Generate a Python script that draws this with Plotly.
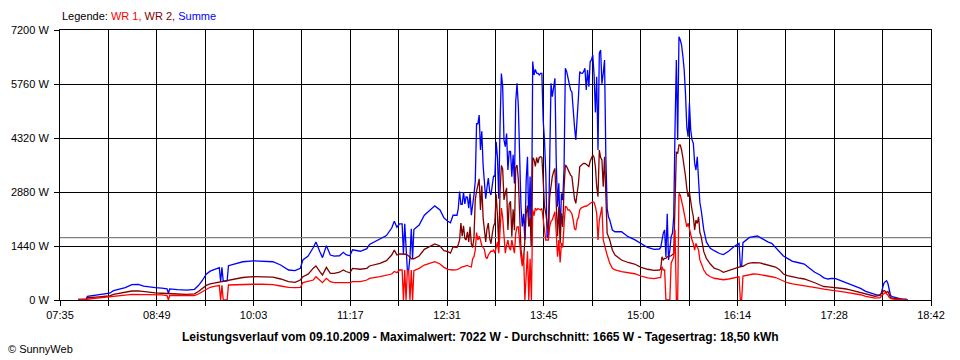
import plotly.graph_objects as go

# ---- data (time of day, watts) ----
TIME = [
    "07:49", "07:55", "07:56", "08:00", "08:05", "08:10", "08:13", "08:16", "08:20", "08:25",
    "08:30", "08:35", "08:39", "08:43", "08:48", "08:53", "08:57", "08:58", "08:59", "09:05",
    "09:12", "09:18", "09:21", "09:24", "09:27", "09:30", "09:34", "09:37", "09:38", "09:39",
    "09:40", "09:43", "09:44", "09:50", "09:55", "10:03", "10:10", "10:18", "10:24", "10:30",
    "10:35", "10:39", "10:41", "10:45", "10:49", "10:51", "10:54", "10:56", "10:59", "11:02",
    "11:05", "11:09", "11:12", "11:14", "11:17", "11:19", "11:25", "11:30", "11:32", "11:40",
    "11:45", "11:49", "11:51", "11:53", "11:55", "11:57", "11:58", "11:59", "12:00", "12:01",
    "12:02", "12:03", "12:04", "12:05", "12:06", "12:10", "12:14", "12:18", "12:22", "12:26",
    "12:29", "12:32", "12:34", "12:36", "12:39", "12:40", "12:41", "12:42", "12:43", "12:44",
    "12:45", "12:46", "12:47", "12:48", "12:49", "12:50", "12:51", "12:52", "12:53", "12:54",
    "12:55", "12:56", "12:57", "12:58", "12:59", "13:00", "13:01", "13:02", "13:03", "13:04",
    "13:05", "13:06", "13:07", "13:08", "13:09", "13:10", "13:11", "13:12", "13:13", "13:14",
    "13:15", "13:16", "13:17", "13:18", "13:19", "13:20", "13:21", "13:22", "13:23", "13:24",
    "13:25", "13:26", "13:27", "13:28", "13:29", "13:30", "13:31", "13:32", "13:33", "13:34",
    "13:35", "13:36", "13:37", "13:38", "13:39", "13:40", "13:41", "13:42", "13:43", "13:44",
    "13:45", "13:46", "13:47", "13:48", "13:49", "13:50", "13:51", "13:52", "13:53", "13:54",
    "13:55", "13:56", "13:57", "13:58", "13:59", "14:00", "14:01", "14:02", "14:03", "14:04",
    "14:05", "14:06", "14:07", "14:08", "14:09", "14:10", "14:11", "14:12", "14:13", "14:14",
    "14:15", "14:16", "14:17", "14:18", "14:19", "14:20", "14:21", "14:22", "14:23", "14:24",
    "14:25", "14:26", "14:27", "14:28", "14:29", "14:30", "14:31", "14:32", "14:33", "14:34",
    "14:35", "14:36", "14:38", "14:40", "14:45", "14:50", "14:55", "15:00", "15:05", "15:10",
    "15:14", "15:15", "15:16", "15:17", "15:18", "15:19", "15:20", "15:21", "15:22", "15:23",
    "15:24", "15:25", "15:26", "15:27", "15:28", "15:29", "15:30", "15:31", "15:32", "15:33",
    "15:34", "15:35", "15:36", "15:37", "15:38", "15:39", "15:40", "15:41", "15:42", "15:43",
    "15:44", "15:45", "15:46", "15:47", "15:48", "15:50", "15:53", "15:56", "16:00", "16:03",
    "16:07", "16:11", "16:14", "16:15", "16:16", "16:17", "16:18", "16:21", "16:23", "16:26",
    "16:29", "16:31", "16:34", "16:37", "16:40", "16:43", "16:46", "16:49", "16:52", "16:56",
    "17:00", "17:05", "17:09", "17:13", "17:17", "17:20", "17:23", "17:26", "17:29", "17:32",
    "17:36", "17:40", "17:44", "17:48", "17:52", "17:56", "17:59", "18:01", "18:03", "18:04",
    "18:05", "18:06", "18:07", "18:08", "18:09", "18:10", "18:11", "18:13", "18:16", "18:19",
    "18:23", "18:24",
]

WR1 = [
    0, 0, 20, 40, 55, 70, 75, 100, 110, 130,
    150, 150, 145, 140, 140, 135, 120, 0, 120, 115,
    115, 120, 160, 220, 300, 340, 370, 385, 0, 390,
    0, 0, 400, 410, 415, 420, 420, 410, 373, 338,
    329, 335, 462, 489, 533, 622, 533, 462, 578, 489,
    462, 462, 462, 462, 462, 489, 489, 533, 578, 622,
    658, 693, 760, 729, 800, 800, 0, 800, 0, 800,
    790, 0, 800, 0, 780, 844, 933, 978, 1022, 960,
    871, 818, 800, 800, 810, 820, 840, 870, 880, 900,
    920, 930, 920, 900, 890, 880, 1100, 1150, 1330, 1800,
    1600, 1700, 1600, 1450, 1400, 1350, 1150, 1100, 1200, 1250,
    1300, 1300, 1330, 1250, 1400, 1550, 1250, 1780, 2450, 2200,
    1600, 1250, 1450, 1600, 1400, 1330, 1600, 1450, 1250, 1780,
    1950, 1950, 1400, 1150, 900, 1230, 0, 900, 1300, 0,
    1100, 0, 2400, 2250, 2450, 2400, 2440, 2420, 2400, 2440,
    2130, 1800, 1600, 1600, 1600, 1955, 2100, 2133, 2222, 2355,
    1800, 1155, 1600, 1000, 1520, 1400, 2000, 2489, 2480, 2400,
    2400, 2330, 2300, 2130, 1900, 1866, 2130, 2200, 2400, 2450,
    2470, 2490, 2500, 2500, 2530, 2550, 2577, 2600, 2622, 2600,
    2489, 2311, 1600, 2133, 2300, 2489, 1600, 1420, 1330, 1200,
    1060, 977, 844, 800, 755, 730, 700, 640, 590, 570,
    580, 600, 890, 800, 800, 0, 0, 0, 0, 980,
    1070, 1150, 1870, 0, 0, 2844, 2800, 2670, 2490, 2310,
    2150, 1950, 2050, 1870, 1690, 1600, 1500, 1330, 1510, 1420,
    1330, 1070, 980, 900, 800, 690, 620, 580, 550, 540,
    560, 580, 600, 620, 0, 0, 640, 667, 685, 693,
    690, 680, 668, 640, 620, 600, 555, 500, 460, 430,
    410, 390, 360, 335, 310, 290, 270, 260, 250, 230,
    210, 190, 175, 140, 95, 60, 50, 55, 60, 110,
    150, 190, 200, 160, 130, 70, 40, 25, 15, 10,
    5, 0,
]

WR2 = [
    15, 20, 60, 80, 85, 100, 110, 150, 175, 200,
    240, 245, 225, 205, 190, 180, 180, 180, 175, 160,
    150, 165, 225, 300, 390, 430, 460, 480, 490, 480,
    500, 510, 515, 570, 600, 622, 620, 610, 560, 489,
    471, 533, 620, 690, 850, 907, 756, 667, 871, 711,
    711, 740, 800, 760, 725, 844, 820, 844, 907, 978,
    1049, 1200, 1330, 1200, 1227, 1230, 1230, 1230, 1220, 1200,
    1180, 1150, 1100, 1110, 1100, 1173, 1351, 1422, 1493, 1440,
    1316, 1289, 1250, 1420, 1400, 1480, 1600, 2050, 1700, 1980,
    1640, 1600, 1820, 1550, 1950, 1500, 1400, 1650, 2670, 2900,
    3100, 3230, 2400, 3050, 2200, 1850, 1550, 1900, 2050, 1650,
    1500, 1750, 1970, 2050, 2820, 2250, 1450, 2920, 3590, 3490,
    2670, 2840, 2990, 1870, 2560, 2630, 1690, 2420, 1860, 3520,
    3600, 3210, 2160, 1350, 1060, 1070, 1600, 2300, 2520, 1960,
    2190, 1420, 3800, 3750, 3560, 3800, 3650, 3800, 3820, 3800,
    3200, 2500, 2310, 1955, 1800, 2755, 3100, 3289, 3420, 3510,
    2600, 1700, 2489, 1500, 2310, 1950, 3000, 3600, 3555, 3470,
    3400, 3330, 3290, 2930, 2700, 2577, 2840, 3100, 3555, 3600,
    3620, 3640, 3644, 3620, 3600, 3560, 3700, 3780, 3866, 3800,
    3555, 3022, 2755, 4000, 3800, 3733, 3022, 3822, 2489, 1777,
    1690, 1600, 1333, 1200, 1066, 1000, 960, 870, 820, 790,
    800, 830, 1150, 1070, 1110, 1110, 1150, 1150, 1170, 1180,
    1200, 1240, 2600, 3950, 3900, 4133, 4130, 4000, 3790, 3570,
    3300, 2978, 2750, 2870, 2590, 2400, 2220, 1870, 2130, 2040,
    2220, 1800, 1690, 1420, 1290, 1110, 960, 850, 800, 740,
    790, 845, 870, 880, 890, 895, 900, 960, 985, 996,
    1000, 990, 960, 940, 920, 880, 810, 693, 650, 615,
    590, 560, 520, 460, 400, 360, 350, 340, 340, 330,
    300, 270, 230, 210, 170, 125, 100, 110, 120, 180,
    220, 250, 235, 200, 225, 120, 70, 40, 25, 15,
    5, 0,
]

SUMME = [
    15, 20, 100, 120, 140, 170, 180, 250, 285, 330,
    410, 415, 370, 345, 330, 315, 300, 180, 295, 275,
    265, 285, 385, 520, 690, 770, 830, 865, 490, 870,
    500, 510, 915, 980, 1020, 1045, 1040, 1020, 933, 800,
    782, 844, 1067, 1173, 1400, 1545, 1289, 1130, 1449, 1200,
    1170, 1180, 1270, 1210, 1180, 1340, 1300, 1370, 1480, 1620,
    1720, 1920, 2100, 1940, 2030, 2030, 1230, 2030, 1220, 800,
    790, 1150, 1900, 1110, 1880, 2000, 2260, 2390, 2510, 2400,
    2190, 2100, 2060, 2260, 2260, 2440, 2890, 2550, 2550, 2880,
    2560, 2750, 2740, 2450, 2840, 2260, 2490, 2800, 3160, 4700,
    4700, 4930, 4000, 4500, 3600, 3200, 2700, 3000, 3250, 2900,
    2800, 3050, 3300, 3300, 4220, 3800, 2700, 4700, 6040, 5690,
    4270, 4090, 4440, 3470, 3960, 3960, 3290, 3870, 3110, 5300,
    5780, 5160, 3560, 2500, 1960, 2300, 1600, 3200, 3820, 1960,
    3290, 1420, 6360, 6000, 6150, 6050, 6044, 6000, 6044, 6044,
    4800, 4270, 3380, 1690, 1650, 3822, 5780, 5420, 5690, 5910,
    3700, 2490, 3111, 1780, 2840, 2666, 3500, 6177, 6090, 5900,
    5750, 5600, 5550, 4900, 4620, 4270, 5060, 5400, 6090, 6050,
    6044, 6090, 6177, 5600, 6133, 5690, 6355, 6400, 6533, 6000,
    5000, 5950, 4000, 6577, 6666, 5770, 6044, 6400, 3822, 2450,
    2220, 2133, 1866, 1820, 1822, 1689, 1610, 1500, 1400, 1351,
    1360, 1400, 1640, 1780, 1870, 1150, 2300, 1070, 1330, 1690,
    1780, 2220, 4620, 6400, 4267, 7022, 6933, 6800, 6500, 6133,
    5500, 4600, 4355, 5250, 4533, 4270, 4178, 3650, 3466, 3820,
    3200, 2600, 2400, 2130, 1870, 1550, 1380, 1315, 1240, 1210,
    1300, 1420, 1490, 1510, 889, 889, 1530, 1618, 1670, 1690,
    1707, 1670, 1600, 1550, 1510, 1400, 1270, 1173, 1110, 1030,
    1000, 960, 845, 740, 667, 590, 560, 578, 570, 530,
    470, 420, 370, 310, 230, 180, 140, 130, 140, 180,
    330, 450, 490, 515, 440, 230, 120, 80, 50, 30,
    20, 0,
]

AVERAGE_W = 1665
Y_TICKS = [0, 1440, 2880, 4320, 5760, 7200]
Y_LABELS = ["0 W", "1440 W", "2880 W", "4320 W", "5760 W", "7200 W"]
X_LABELS = ["07:35", "08:49", "10:03", "11:17", "12:31", "13:45", "15:00", "16:14", "17:28", "18:42"]
TITLE = ("Leistungsverlauf vom 09.10.2009 - Maximalwert: 7022 W - "
         "Durchschnitt: 1665 W - Tagesertrag: 18,50 kWh")

FONT = "Liberation Sans, Arial, sans-serif"


def to_min(s):
    h, m = s.split(":")
    return int(h) * 60 + int(m)


x = [to_min(t) for t in TIME]
x0, x1 = to_min(X_LABELS[0]), to_min(X_LABELS[-1])
step = (x1 - x0) / (len(X_LABELS) - 1)
x_tickvals = [x0 + i * step for i in range(len(X_LABELS))]

fig = go.Figure()
fig.add_trace(go.Scatter(x=[x0, x1], y=[AVERAGE_W, AVERAGE_W], mode="lines",
                         line=dict(color="#808080", width=1.2), hoverinfo="skip"))
fig.add_trace(go.Scatter(x=x, y=SUMME, mode="lines", name="Summe",
                         line=dict(color="#0000FF", width=1.3)))
fig.add_trace(go.Scatter(x=x, y=WR2, mode="lines", name="WR 2",
                         line=dict(color="#800000", width=1.3)))
fig.add_trace(go.Scatter(x=x, y=WR1, mode="lines", name="WR 1",
                         line=dict(color="#FF0000", width=1.3)))

axis_common = dict(
    showline=True, linecolor="black", linewidth=1, mirror=True,
    showgrid=True, gridcolor="black", gridwidth=1,
    ticks="outside", ticklen=5, tickcolor="black", tickwidth=1,
    zeroline=False, tickfont=dict(family=FONT, size=11, color="black"),
)

fig.update_layout(
    width=960, height=360,
    margin=dict(l=60, r=29, t=30, b=60, pad=0),
    paper_bgcolor="white", plot_bgcolor="white",
    showlegend=False,
    font=dict(family=FONT, size=11, color="black"),
    xaxis=dict(range=[x0, x1], tickmode="array", tickvals=x_tickvals, ticktext=X_LABELS,
               minor=dict(tick0=x0, dtick=step / 2, ticks="outside", ticklen=5,
                          tickcolor="black", showgrid=True, gridcolor="black", gridwidth=1),
               **axis_common),
    yaxis=dict(range=[0, 7200], tickmode="array", tickvals=Y_TICKS, ticktext=Y_LABELS,
               ticklabelstandoff=3, **axis_common),
    annotations=[
        dict(xref="paper", yref="paper", x=0, y=1 + 13.5 / 270, xanchor="left", yanchor="middle",
             showarrow=False, font=dict(family=FONT, size=11, color="black"),
             text=("Legende: <span style='color:#FF0000'>WR 1,</span> "
                   "<span style='color:#800000'>WR 2,</span> "
                   "<span style='color:#0000FF'>Summe</span>")),
        dict(xref="paper", yref="paper", x=(480 - 60) / 871, y=-36.5 / 270,
             xanchor="center", yanchor="middle", showarrow=False,
             font=dict(family=FONT, size=12, color="black"), text="<b>" + TITLE + "</b>"),
        dict(xref="paper", yref="paper", x=(6 - 60) / 871, y=-49 / 270,
             xanchor="left", yanchor="middle", showarrow=False,
             font=dict(family=FONT, size=11, color="black"), text="© SunnyWeb"),
    ],
)

fig.write_html("out.html", config={"displayModeBar": False},
               post_script="document.body.style.margin='0';document.body.style.overflow='hidden';")
